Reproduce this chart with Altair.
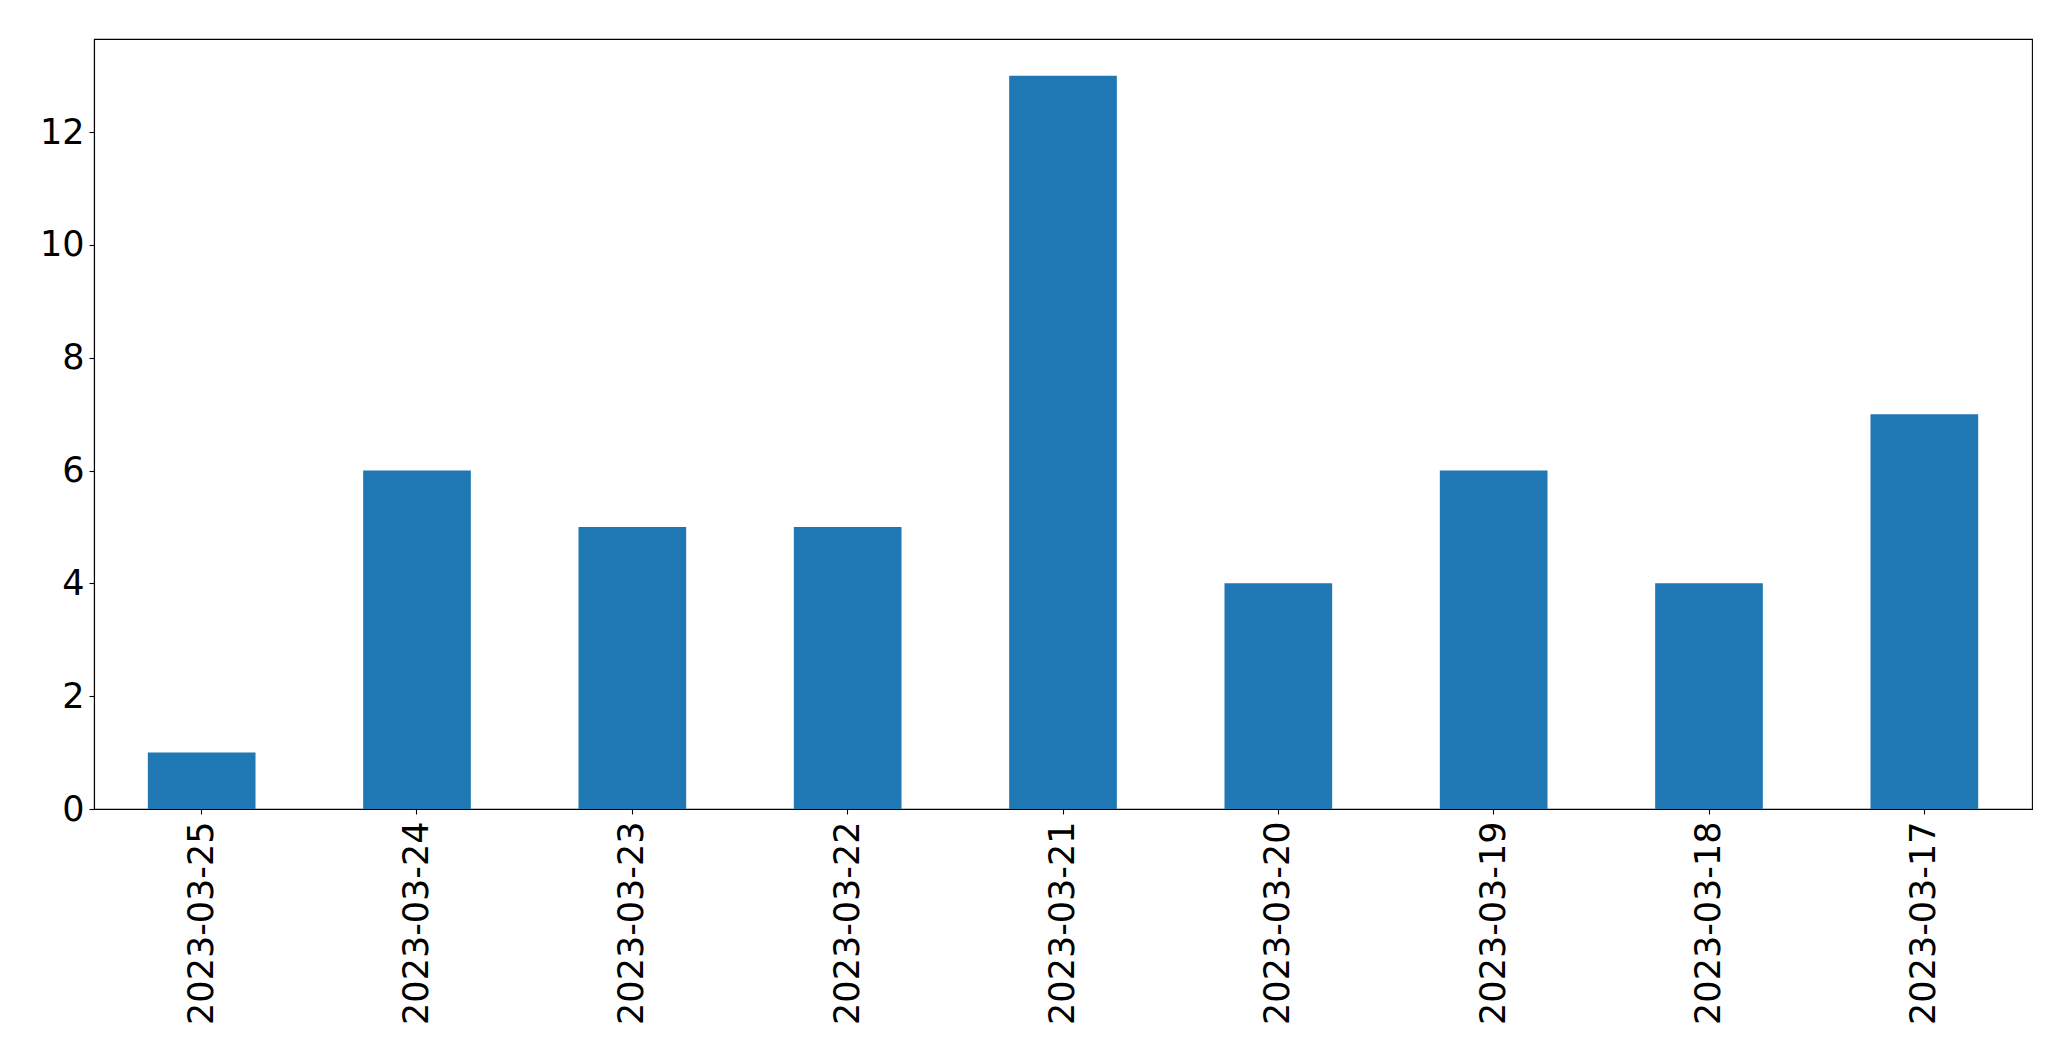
import altair as alt
import pandas as pd

dates = ["2023-03-25", "2023-03-24", "2023-03-23", "2023-03-22", "2023-03-21",
         "2023-03-20", "2023-03-19", "2023-03-18", "2023-03-17"]
counts = [1, 6, 5, 5, 13, 4, 6, 4, 7]
y_ticks = [0, 2, 4, 6, 8, 10, 12]

df = pd.DataFrame({"date": dates, "count": counts})

chart = alt.Chart(df).mark_bar(color="#1f77b4").encode(
    x=alt.X("date:N", sort=dates, title=None,
            scale=alt.Scale(paddingInner=0.5, paddingOuter=0.25),
            axis=alt.Axis(labelAngle=-90, labelFont="DejaVu Sans", labelFontSize=35,
                          labelColor="black", labelPadding=7, labelLimit=0, tickSize=5,
                          tickWidth=1.1, tickColor="black", domainColor="black",
                          domainWidth=1.1, labelBaseline="middle", labelAlign="right")),
    y=alt.Y("count:Q", title=None,
            scale=alt.Scale(domain=[0, 13.65], nice=False, zero=True),
            axis=alt.Axis(values=y_ticks, labelFont="DejaVu Sans", labelFontSize=35,
                          labelColor="black", labelPadding=5, tickSize=5, tickWidth=1.1,
                          tickColor="black", domainColor="black", domainWidth=1.1,
                          grid=False)),
).properties(
    width=1938, height=770,
    background="white",
    autosize=alt.AutoSizeParams(type="none"),
    padding={"left": 86, "top": 31, "right": 25, "bottom": 230},
).configure_view(
    stroke="black", strokeWidth=1.1
)

chart.save("out.html", embed_options={"renderer": "svg", "actions": False})
